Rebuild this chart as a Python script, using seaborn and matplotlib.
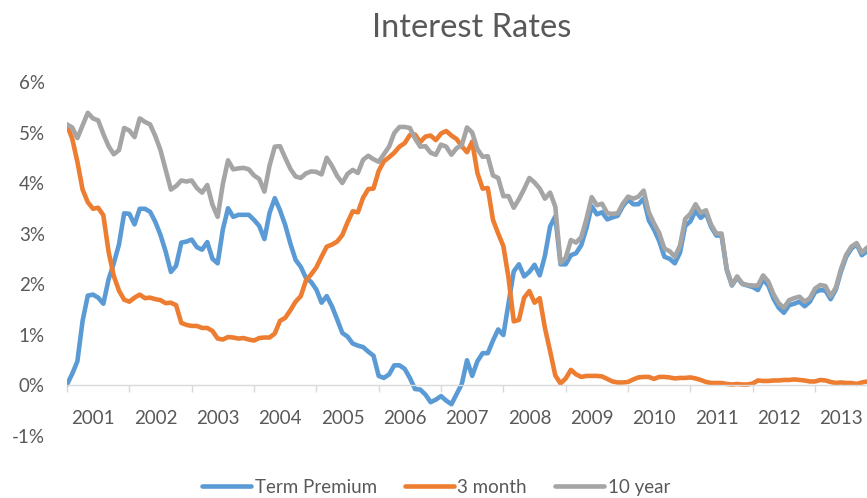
import matplotlib
matplotlib.use("Agg")
import matplotlib.pyplot as plt
import pandas as pd
import seaborn as sns

# --- Data (monthly, Jan 2001 - Nov 2013, in %) ---
YEARS = [str(y) for y in range(2001, 2014)]
SERIES = ["Term Premium", "3 month", "10 year"]
COLORS = ["#5B9BD5", "#ED7D31", "#A5A5A5"]
Y_TICKS = [-1, 0, 1, 2, 3, 4, 5, 6]
Y_LABELS = ["-1%", "0%", "1%", "2%", "3%", "4%", "5%", "6%"]

ten_year = [
    5.16, 5.10, 4.89, 5.14, 5.39, 5.28, 5.24, 4.97, 4.73, 4.57, 4.65, 5.09,
    5.04, 4.91, 5.28, 5.21, 5.16, 4.93, 4.65, 4.26, 3.87, 3.94, 4.05, 4.03,
    4.05, 3.90, 3.81, 3.96, 3.57, 3.33, 3.98, 4.45, 4.27, 4.29, 4.30, 4.27,
    4.15, 4.08, 3.83, 4.35, 4.72, 4.73, 4.50, 4.28, 4.13, 4.10, 4.19, 4.23,
    4.22, 4.17, 4.50, 4.34, 4.14, 4.00, 4.18, 4.26, 4.20, 4.46, 4.54, 4.47,
    4.42, 4.57, 4.72, 4.99, 5.11, 5.11, 5.09, 4.88, 4.72, 4.73, 4.60, 4.56,
    4.76, 4.72, 4.56, 4.69, 4.75, 5.10, 5.00, 4.67, 4.52, 4.53, 4.15, 4.10,
    3.74, 3.74, 3.51, 3.68, 3.88, 4.10, 4.01, 3.89, 3.69, 3.81, 3.53, 2.42,
    2.52, 2.87, 2.82, 2.93, 3.29, 3.72, 3.56, 3.59, 3.40, 3.39, 3.40, 3.59,
    3.73, 3.69, 3.73, 3.85, 3.42, 3.20, 3.01, 2.70, 2.65, 2.54, 2.76, 3.29,
    3.39, 3.58, 3.41, 3.46, 3.17, 3.00, 3.00, 2.30, 1.98, 2.15, 2.01, 1.98,
    1.97, 1.97, 2.17, 2.05, 1.80, 1.62, 1.53, 1.68, 1.72, 1.75, 1.65, 1.72,
    1.91, 1.98, 1.96, 1.76, 1.93, 2.30, 2.58, 2.74, 2.81, 2.62, 2.72,
]

three_month = [
    5.15, 4.88, 4.42, 3.87, 3.62, 3.49, 3.51, 3.36, 2.64, 2.16, 1.87, 1.69,
    1.65, 1.73, 1.79, 1.72, 1.73, 1.70, 1.68, 1.62, 1.63, 1.58, 1.23, 1.19,
    1.17, 1.17, 1.13, 1.13, 1.07, 0.92, 0.90, 0.95, 0.94, 0.92, 0.93, 0.90,
    0.88, 0.93, 0.94, 0.94, 1.02, 1.27, 1.33, 1.48, 1.65, 1.76, 2.07, 2.19,
    2.33, 2.54, 2.74, 2.78, 2.84, 2.97, 3.22, 3.44, 3.42, 3.71, 3.88, 3.89,
    4.24, 4.43, 4.51, 4.60, 4.72, 4.79, 4.95, 4.96, 4.81, 4.92, 4.94, 4.85,
    4.98, 5.03, 4.94, 4.87, 4.73, 4.61, 4.82, 4.20, 3.89, 3.90, 3.27, 3.00,
    2.75, 2.12, 1.26, 1.29, 1.73, 1.86, 1.63, 1.72, 1.13, 0.67, 0.19, 0.03,
    0.13, 0.30, 0.21, 0.16, 0.18, 0.18, 0.18, 0.17, 0.12, 0.07, 0.05, 0.05,
    0.06, 0.11, 0.15, 0.16, 0.16, 0.12, 0.16, 0.16, 0.15, 0.13, 0.14, 0.14,
    0.15, 0.13, 0.10, 0.06, 0.04, 0.04, 0.04, 0.02, 0.01, 0.02, 0.01, 0.01,
    0.03, 0.09, 0.08, 0.08, 0.09, 0.09, 0.10, 0.10, 0.11, 0.10, 0.09, 0.07,
    0.07, 0.10, 0.09, 0.06, 0.04, 0.05, 0.04, 0.04, 0.02, 0.05, 0.07,
]

term_premium = [
    0.01, 0.22, 0.47, 1.27, 1.77, 1.79, 1.73, 1.61, 2.09, 2.41, 2.78, 3.40,
    3.39, 3.18, 3.49, 3.49, 3.43, 3.23, 2.97, 2.64, 2.24, 2.36, 2.82, 2.84,
    2.88, 2.73, 2.68, 2.83, 2.50, 2.41, 3.08, 3.50, 3.33, 3.37, 3.37, 3.37,
    3.27, 3.15, 2.89, 3.41, 3.70, 3.46, 3.17, 2.80, 2.48, 2.34, 2.12, 2.04,
    1.89, 1.63, 1.76, 1.56, 1.30, 1.03, 0.96, 0.82, 0.78, 0.75, 0.66, 0.58,
    0.18, 0.14, 0.21, 0.39, 0.39, 0.32, 0.14, -0.08, -0.09, -0.19, -0.34, -0.29,
    -0.22, -0.31, -0.38, -0.18, 0.02, 0.49, 0.18, 0.47, 0.63, 0.63, 0.88, 1.10,
    0.99, 1.62, 2.25, 2.39, 2.15, 2.24, 2.38, 2.17, 2.56, 3.14, 3.34, 2.39,
    2.39, 2.57, 2.61, 2.77, 3.11, 3.54, 3.38, 3.42, 3.28, 3.32, 3.35, 3.54,
    3.67, 3.58, 3.58, 3.69, 3.26, 3.08, 2.85, 2.54, 2.50, 2.41, 2.62, 3.15,
    3.24, 3.45, 3.31, 3.40, 3.13, 2.96, 2.96, 2.28, 1.97, 2.13, 2.00, 1.97,
    1.94, 1.88, 2.09, 1.97, 1.71, 1.53, 1.43, 1.58, 1.61, 1.65, 1.56, 1.65,
    1.84, 1.88, 1.87, 1.70, 1.89, 2.25, 2.54, 2.70, 2.79, 2.57, 2.65,
]

TEXT_COLOR = "#595959"
AXIS_COLOR = "#D9D9D9"

sns.set_theme(style="white")
plt.rcParams["font.family"] = ["Lato", "DejaVu Sans"]


def build_frame():
    rows = []
    for name, values in zip(SERIES, [term_premium, three_month, ten_year]):
        for i, v in enumerate(values):
            rows.append({"month": i, "rate": v, "series": name})
    return pd.DataFrame(rows)


df = build_frame()

fig = plt.figure(figsize=(8.67, 4.98), dpi=100)
ax = fig.add_axes([67 / 867, 0.1255, 1 - 67 / 867, 0.8353 - 0.1255])

sns.lineplot(
    data=df, x="month", y="rate", hue="series", hue_order=SERIES,
    palette=COLORS, linewidth=3.3, ax=ax, legend=True,
)
handles, labels = ax.get_legend_handles_labels()
ax.get_legend().remove()
for line in ax.get_lines():
    line.set_solid_capstyle("round")
    line.set_solid_joinstyle("round")

ax.set_xlim(0, 154)
ax.set_ylim(-1, 6)
ax.set_xlabel("")
ax.set_ylabel("")

# y axis: percent labels, no line
ax.set_yticks(Y_TICKS)
ax.set_yticklabels(Y_LABELS)
ax.tick_params(axis="y", length=0, pad=16, labelsize=13.5, labelcolor=TEXT_COLOR)

# x axis crosses at 0, year boundaries as ticks, year names between them
ax.spines["bottom"].set_position(("data", 0))
ax.spines["bottom"].set_color(AXIS_COLOR)
ax.spines["bottom"].set_linewidth(1.0)
for side in ["left", "right", "top"]:
    ax.spines[side].set_visible(False)

ax.set_xticks([12 * k for k in range(13)])
ax.set_xticklabels([])
ax.tick_params(axis="x", which="major", length=5, width=1.0, color=AXIS_COLOR,
               direction="out", bottom=True)
ax.set_xticks([12 * k + 5.06 for k in range(len(YEARS))], minor=True)
ax.set_xticklabels(YEARS, minor=True)
ax.tick_params(axis="x", which="minor", length=0, pad=18, labelsize=13.5,
               labelcolor=TEXT_COLOR)
ax.grid(False)

fig.text(472 / 867, 1 - 28 / 498, "Interest Rates", ha="center", va="center",
         fontsize=23.5, color=TEXT_COLOR)

leg = fig.legend(handles, labels, loc="center", ncol=3,
                 bbox_to_anchor=(436 / 867, 1 - 487 / 498), frameon=False,
                 fontsize=13.5, handlelength=2.6, handletextpad=0.2,
                 columnspacing=1.5, borderaxespad=0)
for t in leg.get_texts():
    t.set_color(TEXT_COLOR)
for h in leg.legend_handles:
    h.set_linewidth(3.3)
    h.set_solid_capstyle("round")

fig.savefig("out.png", dpi=100)
